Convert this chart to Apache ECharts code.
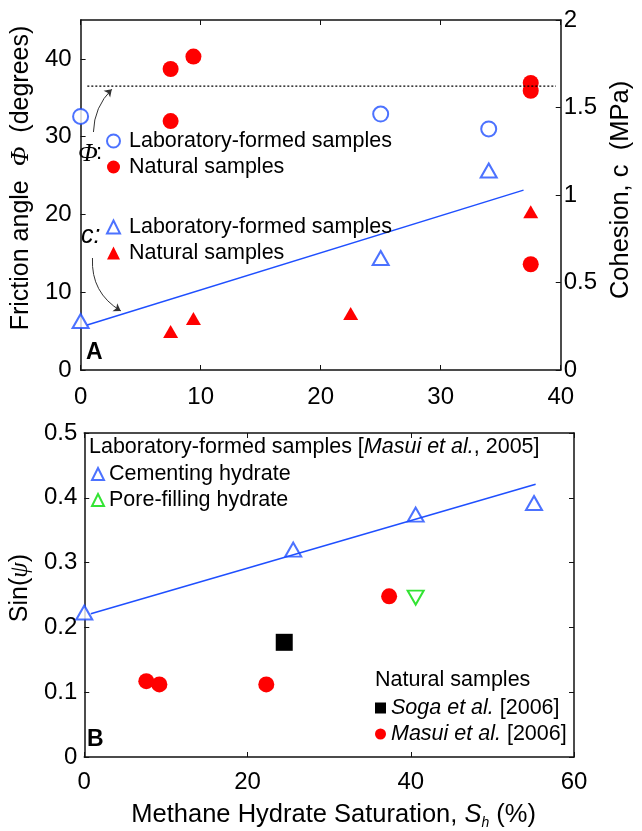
<!DOCTYPE html>
<html><head><meta charset="utf-8">
<script src="https://cdn.jsdelivr.net/npm/echarts@6/dist/echarts.min.js"></script>
<style>html,body{margin:0;padding:0;background:#fff}#c{width:642px;height:831px}</style>
</head><body><div id="c"></div>
<script>
// ---------- Panel A data ----------
const xPhiLab = [0, 25, 34];
const phiLab = [32.6, 32.9, 31.0];
const xPhiNat = [7.5, 9.4, 7.5, 37.5, 37.5, 37.5];
const phiNat = [38.7, 40.3, 32.0, 36.9, 35.9, 13.6];
const xCLab = [0, 25, 34];
const cLab = [0.28, 0.64, 1.14];
const xCNat = [7.5, 9.4, 22.5, 37.5];
const cNat = [0.22, 0.295, 0.323, 0.905];
const xCFit = [0.55, 36.9];
const cFit = [0.257, 1.028];
const xPhiRef = [0.56, 39.6];
const phiRef = [36.5, 36.5];
// arrows (annotation) in data units of panel A (left axis)
const arrowPhi = [[1.07, 30.6], [2.6, 36.1]];
const arrowC = [[0.99, 14.4], [3.35, 7.6]];
const xTicksA = [0, 10, 20, 30, 40];
const yTicksPhi = [0, 10, 20, 30, 40];
const yTicksC = [0, 0.5, 1, 1.5, 2];

// ---------- Panel B data ----------
const xCem = [0, 25.6, 40.6, 55.1];
const sinCem = [0.223, 0.320, 0.374, 0.392];
const xPore = [40.6];
const sinPore = [0.246];
const xSoga = [24.5];
const sinSoga = [0.177];
const xMasui = [7.6, 9.2, 22.3, 37.35];
const sinMasui = [0.117, 0.112, 0.112, 0.248];
const xFitB = [0.8, 55.3];
const sinFitB = [0.221, 0.421];
const xTicksB = [0, 20, 40, 60];
const yTicksB = [0, 0.1, 0.2, 0.3, 0.4, 0.5];

const zip = (a, b) => a.map((v, i) => [v, b[i]]);
const F = "'Liberation Sans', Arial, Helvetica, sans-serif";
const SERIF = "'Liberation Serif', 'Times New Roman', serif";
const BLUE = '#1f4fff', RED = '#ff0000', GREEN = '#00dd00';

const names = {
  phiLab: 'Laboratory-formed samples', phiNat: 'Natural samples',
  cLab: 'Laboratory-formed samples', cNat: 'Natural samples',
  cem: 'Cementing hydrate', pore: 'Pore-filling hydrate',
  soga: '{i|Soga et al.} [2006]', masui: '{i|Masui et al.} [2006]'
};

const axisLine = {show: true, onZero: false, lineStyle: {color: '#111', width: 1.5}};
const axisTick = {show: true, inside: true, length: 5, lineStyle: {color: '#111', width: 1}};
const lab = (m) => ({fontSize: 24, color: '#000', fontFamily: F, margin: m});

function xAx(grid, min, max, iv, pos, show, extra) {
  return Object.assign({gridIndex: grid, type: 'value', min: min, max: max, interval: iv, position: pos,
    axisLine: axisLine, axisTick: axisTick, splitLine: {show: false},
    axisLabel: show ? lab(show) : {show: false}}, extra || {});
}

const LF = 21.5;
const legText = {fontSize: LF, color: '#000', fontFamily: F, lineHeight: 26,
  rich: {i: {fontStyle: 'italic', fontSize: LF, fontFamily: F, lineHeight: 26}}};
function leg(data, left, top, iw, pad) {
  return {data: data, left: left, top: top, orient: 'vertical', padding: 0, itemGap: 0,
    itemWidth: iw, itemHeight: iw, selectedMode: false,
    formatter: n => names[n],
    textStyle: Object.assign({}, legText, pad ? {padding: [0, 0, 0, pad]} : {})};
}

const option = {
  animation: false,
  backgroundColor: '#fff',
  textStyle: {fontFamily: F},
  grid: [
    {left: 75, right: 69, top: 20, height: 350},
    {left: 75, right: 68, top: 433, height: 327}
  ],
  xAxis: [
    xAx(0, 0, 40, 10, 'bottom', 15),
    xAx(0, 0, 40, 10, 'top', 0),
    xAx(1, 0, 60, 20, 'bottom', 13, {
      name: 'Methane Hydrate Saturation, {i|S}{sub|h} (%)', nameLocation: 'middle', nameGap: 42,
      nameTextStyle: {fontSize: 25.5, color: '#000', fontFamily: F, padding: [0, 0, 0, 9],
        rich: {i: {fontStyle: 'italic', fontSize: 25.5, fontFamily: F},
               sub: {fontStyle: 'italic', fontSize: 14, fontFamily: F, padding: [17, 0, 0, 0]}}}
    }),
    xAx(1, 0, 60, 20, 'top', 0)
  ],
  yAxis: [
    xAx(0, 0, 45, 10, 'left', 9, {
      axisLabel: Object.assign(lab(9), {showMaxLabel: false}),
      name: 'Friction angle  {p|Φ}  (degrees)', nameLocation: 'middle', nameGap: 43, nameRotate: 90,
      nameTextStyle: {fontSize: 25, color: '#000', fontFamily: F, padding: [0, 0, 0, 34],
        rich: {p: {fontStyle: 'italic', fontSize: 26, fontFamily: SERIF}}}
    }),
    xAx(0, 0, 2, 0.5, 'right', 3, {
      name: 'Cohesion, c  (MPa)', nameLocation: 'middle', nameGap: 42, nameRotate: 90,
      nameTextStyle: {fontSize: 25.5, color: '#000', fontFamily: F, padding: [0, 0, 0, 10]}
    }),
    xAx(1, 0, 0.5, 0.1, 'left', 7, {
      name: 'Sin({p|ψ})', nameLocation: 'middle', nameGap: 43, nameRotate: 90,
      nameTextStyle: {fontSize: 25, color: '#000', fontFamily: F, padding: [0, 0, 0, 14],
        rich: {p: {fontStyle: 'italic', fontSize: 25, fontFamily: SERIF}}}
    }),
    xAx(1, 0, 0.5, 0.1, 'right', 0)
  ],
  legend: [
    leg(['phiLab', 'phiNat'], 106, 128, 13, 4),
    leg(['cLab', 'cNat'], 106, 214, 13, 4),
    leg(['cem', 'pore'], 91, 461, 12, 0),
    leg(['soga', 'masui'], 375, 695, 11, 0)
  ],
  graphic: [
    {type: 'text', left: 78, top: 141, style: {text: 'Φ', font: 'italic 26px ' + SERIF, fill: '#000'}},
    {type: 'text', left: 96, top: 142, style: {text: ':', font: '22px ' + F, fill: '#000'}},
    {type: 'text', left: 81, top: 224, style: {text: 'c:', font: 'italic 25px ' + F, fill: '#000'}},
    {type: 'text', left: 86, top: 341, style: {text: 'A', font: 'bold 23px ' + F, fill: '#000'}},
    {type: 'text', left: 87, top: 728, style: {text: 'B', font: 'bold 23px ' + F, fill: '#000'}},
    {type: 'text', left: 89, top: 436, style: {
      text: 'Laboratory-formed samples [{i|Masui et al.}, 2005]', fill: '#000',
      font: LF + 'px ' + F, rich: {i: {fontStyle: 'italic', fontSize: LF, fontFamily: F, fill: '#000'}}}},
    {type: 'text', left: 375, top: 669, style: {text: 'Natural samples', font: LF + 'px ' + F, fill: '#000'}}
  ],
  series: [
    {name: 'phiRef', type: 'line', xAxisIndex: 0, yAxisIndex: 0, data: zip(xPhiRef, phiRef),
      symbol: 'none', lineStyle: {color: '#000', width: 1.2, type: [2, 2]}, silent: true},
    {name: 'cFit', type: 'line', xAxisIndex: 0, yAxisIndex: 1, data: zip(xCFit, cFit),
      symbol: 'none', lineStyle: {color: BLUE, width: 1.5}},
    {name: 'arrows', type: 'lines', coordinateSystem: 'cartesian2d', xAxisIndex: 0, yAxisIndex: 0,
      symbol: ['none', 'arrow'], symbolSize: 7,
      lineStyle: {color: '#333', width: 1, opacity: 1},
      data: [{coords: arrowPhi, lineStyle: {curveness: 0.2}}, {coords: arrowC, lineStyle: {curveness: -0.3}}]},
    {name: 'phiLab', type: 'scatter', xAxisIndex: 0, yAxisIndex: 0, data: zip(xPhiLab, phiLab), clip: false,
      symbol: 'emptyCircle', symbolSize: 15, itemStyle: {color: BLUE, borderColor: BLUE, borderWidth: 1.5}},
    {name: 'phiNat', type: 'scatter', xAxisIndex: 0, yAxisIndex: 0, data: zip(xPhiNat, phiNat), clip: false,
      symbol: 'circle', symbolSize: 16, itemStyle: {color: RED, opacity: 1}},
    {name: 'cLab', type: 'scatter', xAxisIndex: 0, yAxisIndex: 1, data: zip(xCLab, cLab), clip: false,
      symbol: 'emptyTriangle', symbolSize: [16, 14], itemStyle: {color: BLUE, borderColor: BLUE, borderWidth: 1.5}},
    {name: 'cNat', type: 'scatter', xAxisIndex: 0, yAxisIndex: 1, data: zip(xCNat, cNat), clip: false,
      symbol: 'triangle', symbolSize: [15, 13], itemStyle: {color: RED, opacity: 1}},

    {name: 'fitB', type: 'line', xAxisIndex: 2, yAxisIndex: 2, data: zip(xFitB, sinFitB),
      symbol: 'none', lineStyle: {color: BLUE, width: 1.5}},
    {name: 'cem', type: 'scatter', xAxisIndex: 2, yAxisIndex: 2, data: zip(xCem, sinCem), clip: false,
      symbol: 'emptyTriangle', symbolSize: [16, 14], itemStyle: {color: BLUE, borderColor: BLUE, borderWidth: 1.5}},
    {name: 'pore', type: 'scatter', xAxisIndex: 2, yAxisIndex: 2, data: zip(xPore, sinPore), clip: false,
      symbol: 'emptyTriangle', symbolRotate: 180, symbolSize: [16, 14], itemStyle: {color: GREEN, borderColor: GREEN, borderWidth: 1.5}},
    {name: 'soga', type: 'scatter', xAxisIndex: 2, yAxisIndex: 2, data: zip(xSoga, sinSoga), clip: false,
      symbol: 'rect', symbolSize: 17, itemStyle: {color: '#000', opacity: 1}},
    {name: 'masui', type: 'scatter', xAxisIndex: 2, yAxisIndex: 2, data: zip(xMasui, sinMasui), clip: false,
      symbol: 'circle', symbolSize: 16, itemStyle: {color: RED, opacity: 1}}
  ]
};
const chart = echarts.init(document.getElementById('c'), null, {renderer: 'canvas'});
chart.setOption(option);
</script>
</body></html>
